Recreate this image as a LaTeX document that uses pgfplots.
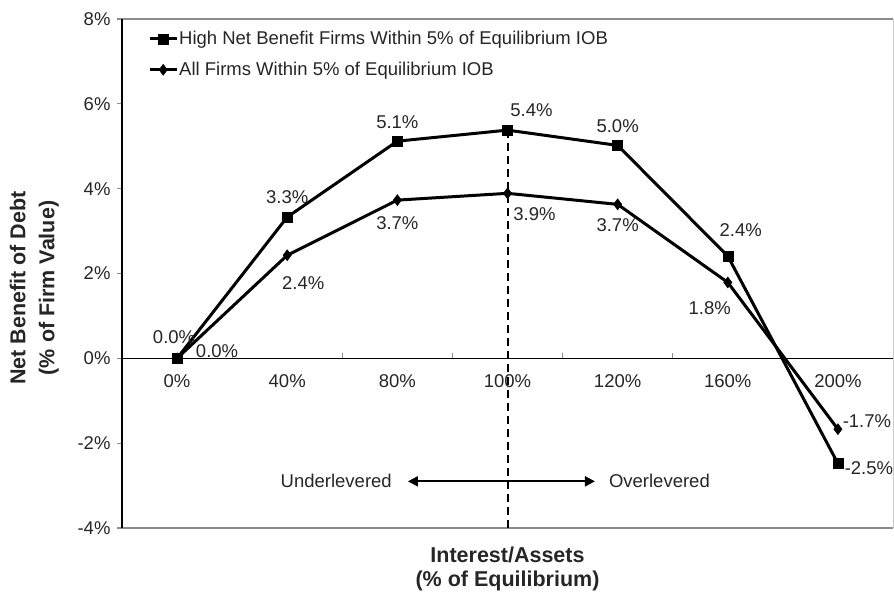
\documentclass[border=0pt]{standalone}
\usepackage{fontspec}
\setmainfont{Liberation Sans}
\usepackage{pgfplots}
\pgfplotsset{compat=1.18}
\usetikzlibrary{arrows.meta}
\definecolor{txt}{HTML}{262626}
\definecolor{frame}{HTML}{8C8C8C}
\begin{document}
\begin{tikzpicture}
\begin{axis}[
  name=ax,
  scale only axis, width=771pt, height=509pt,
  xmin=-0.5, xmax=6.5, ymin=-4, ymax=8,
  clip=false,
  axis line style={draw=none},
  xtick={0,1,2,3,4,5,6},
  xticklabels={0\%,40\%,80\%,100\%,120\%,160\%,200\%},
  x tick style={draw=none},
  xticklabel style={yshift=157pt},
  ytick={-4,-2,0,2,4,6,8},
  yticklabels={-4\%,-2\%,0\%,2\%,4\%,6\%,8\%},
  ytick pos=left, ytick align=outside,
  y tick style={draw=frame, line width=1.2pt},
  major tick length=5pt,
  yticklabel style={xshift=-3pt},
  ticklabel style={font=\fontsize{18.5}{22}\selectfont, text=txt},
  xlabel={Interest/Assets\\(\% of Equilibrium)},
  xlabel style={at={(rel axis cs:0.5,-0.03)}, anchor=north, align=center, text=txt,
    font=\bfseries\fontsize{21.5}{24}\selectfont},
  ylabel={Net Benefit of Debt\\(\% of Firm Value)},
  ylabel style={at={(rel axis cs:-0.0772,0.4715)}, anchor=south, align=center, text=txt,
    font=\bfseries\fontsize{21.5}{29}\selectfont},
  legend style={at={(rel axis cs:0.0337,0.978)}, anchor=north west, draw=none, fill=none,
    font=\fontsize{18.5}{22}\selectfont, text=txt, row sep=14pt, inner sep=0pt,
    nodes={inner sep=1pt}},
  legend cell align=left,
  legend image code/.code={\draw[mark repeat=2,mark phase=2] plot coordinates {(0pt,0pt) (13.5pt,0pt) (27pt,0pt)};},
]
% frame
\draw[frame, line width=2pt] (rel axis cs:0,1) -- (rel axis cs:1,1);
\draw[frame, line width=2pt] (rel axis cs:0,0) -- (rel axis cs:1,0);
\draw[black!20, line width=1pt] (rel axis cs:1,0) -- (rel axis cs:1,1);
\draw[black, line width=2pt] (rel axis cs:0,0) -- (rel axis cs:0,1);
% zero line and category ticks
\draw[black, line width=1.5pt] (axis cs:-0.5,0) -- (axis cs:6.5,0);
\draw[frame, line width=1.2pt] (axis cs:0.5,0) -- ([yshift=5pt]axis cs:0.5,0);
\draw[frame, line width=1.2pt] (axis cs:1.5,0) -- ([yshift=5pt]axis cs:1.5,0);
\draw[frame, line width=1.2pt] (axis cs:2.5,0) -- ([yshift=5pt]axis cs:2.5,0);
\draw[frame, line width=1.2pt] (axis cs:3.5,0) -- ([yshift=5pt]axis cs:3.5,0);
\draw[frame, line width=1.2pt] (axis cs:4.5,0) -- ([yshift=5pt]axis cs:4.5,0);
\draw[frame, line width=1.2pt] (axis cs:5.5,0) -- ([yshift=5pt]axis cs:5.5,0);
% dashed equilibrium line
\draw[black, line width=2pt, dash pattern=on 8pt off 5pt] (axis cs:3,5.38) -- (axis cs:3,-4);

\addplot[black, line width=3pt, mark=square*, mark size=5pt, mark options={solid, line width=0.5pt}]
  coordinates {(0,0) (1,3.33) (2,5.12) (3,5.38) (4,5.02) (5,2.41) (6,-2.48)};
\addlegendentry{High Net Benefit Firms Within 5\% of Equilibrium IOB}
\addplot[black, line width=3pt, mark=diamond*, mark size=5.5pt, mark options={solid, line width=0.5pt}]
  coordinates {(0,0) (1,2.43) (2,3.73) (3,3.89) (4,3.63) (5,1.79) (6,-1.67)};
\addlegendentry{All Firms Within 5\% of Equilibrium IOB}

% data labels
\begin{scope}[every node/.style={font=\fontsize{18.5}{22}\selectfont, text=txt, inner sep=0pt}]
\node[xshift=-3pt, yshift=21pt] at (axis cs:0,0) {0.0\%};
\node[yshift=20pt] at (axis cs:1,3.33) {3.3\%};
\node[yshift=19pt] at (axis cs:2,5.12) {5.1\%};
\node[xshift=24pt, yshift=20pt] at (axis cs:3,5.38) {5.4\%};
\node[yshift=19pt] at (axis cs:4,5.02) {5.0\%};
\node[xshift=13pt, yshift=26pt] at (axis cs:5,2.41) {2.4\%};
\node[xshift=31pt, yshift=-5pt] at (axis cs:6,-2.48) {-2.5\%};
\node[xshift=40pt, yshift=7pt] at (axis cs:0,0) {0.0\%};
\node[xshift=16pt, yshift=-28pt] at (axis cs:1,2.43) {2.4\%};
\node[yshift=-23pt] at (axis cs:2,3.73) {3.7\%};
\node[xshift=27pt, yshift=-21pt] at (axis cs:3,3.89) {3.9\%};
\node[yshift=-21pt] at (axis cs:4,3.63) {3.7\%};
\node[xshift=-18pt, yshift=-26pt] at (axis cs:5,1.79) {1.8\%};
\node[xshift=29pt, yshift=8pt] at (axis cs:6,-1.67) {-1.7\%};
% leverage arrow
\draw[black, line width=2pt, {Triangle[length=10pt,width=10pt]}-{Triangle[length=10pt,width=10pt]}]
  (axis cs:2.096,-2.9) -- (axis cs:3.794,-2.9);
\node[anchor=east] at (axis cs:1.951,-2.9) {Underlevered};
\node[anchor=west] at (axis cs:3.92,-2.9) {Overlevered};
\end{scope}
\end{axis}
\pgfresetboundingbox
\path[use as bounding box] ([xshift=-122pt,yshift=-66pt]ax.south west) rectangle ([xshift=1pt,yshift=19pt]ax.north east);
\end{tikzpicture}
\end{document}
